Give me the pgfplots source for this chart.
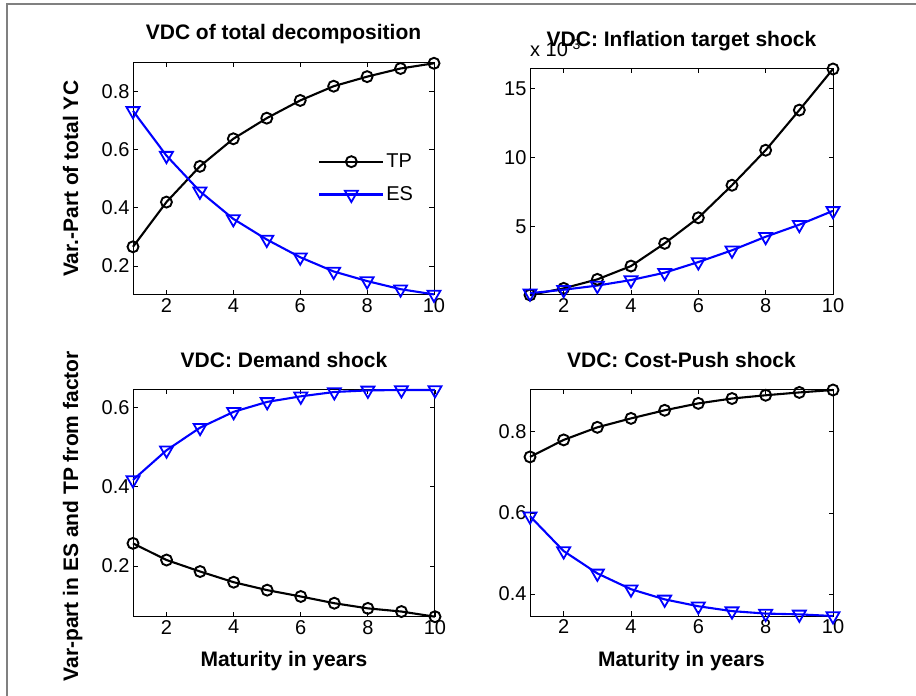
\documentclass[border=0pt]{standalone}
\usepackage{fontspec}
\setmainfont{Liberation Sans}
\usepackage{pgfplots}
\pgfplotsset{compat=1.18}

\newcommand{\tickfont}{\fontsize{20bp}{22bp}\selectfont}
\newcommand{\labfont}{\fontsize{21bp}{24bp}\selectfont\bfseries}
\definecolor{framegray}{RGB}{128,128,128}

\pgfplotsset{
  vdc/.style={
    scale only axis,
    anchor=south west,
    xmin=1, xmax=10,
    xtick={2,4,6,8,10},
    tick align=inside,
    xtick pos=both, ytick pos=both,
    major tick length=4.5bp,
    tick style={black, line width=0.8bp},
    axis line style={black, line width=1bp},
    ticklabel style={font=\tickfont},
    /pgf/number format/assume math mode=true,
    title style={font=\labfont, at={([yshift=17bp]axis description cs:0.5,1)}, anchor=base, inner sep=0pt},
    xlabel style={font=\labfont, at={([yshift=-50bp]axis description cs:0.5,0)}, anchor=base, inner sep=0pt},
    clip=false,
    every axis plot/.append style={line width=2.1bp},
  },
  tp/.style={black, mark=o, mark size=5.5bp, mark options={line width=1.9bp, solid}},
  es/.style={blue, mark=triangle, mark size=7.5bp, mark options={rotate=180, line width=1.8bp, solid}},
}

\begin{document}
\begin{tikzpicture}
\useasboundingbox (0,0) rectangle (916bp,696bp);
\draw[framegray, line width=2bp] (6.7bp,0bp) -- (6.7bp,692.3bp) -- (916bp,692.3bp);

% Top left
\begin{axis}[vdc, at={(133bp,401bp)}, width=301bp, height=232.3bp,
  ymin=0.1, ymax=0.9, ytick={0.2,0.4,0.6,0.8},
  title={VDC of total decomposition},
  ylabel={Var.-Part of total YC},
  ylabel style={font=\labfont, at={([xshift=-55bp]axis description cs:0,0.5)}, anchor=base, rotate=0, inner sep=0pt},
  legend style={draw=none, fill=none, font=\tickfont, at={(axis description cs:0.615,0.503)}, anchor=west, inner sep=0pt, row sep=13.5bp},
  legend cell align=left,
  legend image code/.code={\draw[mark repeat=2,mark phase=2,#1] plot coordinates {(0bp,0bp) (32bp,0bp) (64bp,0bp)};},
]
\addplot[tp] coordinates {(1,0.266) (2,0.420) (3,0.543) (4,0.638) (5,0.709) (6,0.770) (7,0.819) (8,0.852) (9,0.880) (10,0.898)};
\addlegendentry{TP}
\addplot[es] coordinates {(1,0.734) (2,0.580) (3,0.457) (4,0.362) (5,0.291) (6,0.230) (7,0.181) (8,0.148) (9,0.120) (10,0.102)};
\addlegendentry{ES}
\end{axis}

% Top right (values in units of 10^-3)
\begin{axis}[vdc, at={(530bp,401bp)}, width=303bp, height=226bp,
  ymin=0.07, ymax=16.4, ytick={5,10,15},
  title={VDC: Inflation target shock},
]
\node[anchor=base west, font=\tickfont, inner sep=0pt] at ([yshift=12bp]rel axis cs:0,1) {x 10\textsuperscript{-3}};
\addplot[tp] coordinates {(1,0.07) (2,0.55) (3,1.2) (4,2.16) (5,3.8) (6,5.65) (7,8.0) (8,10.53) (9,13.43) (10,16.4)};
\addplot[es] coordinates {(1,0.2) (2,0.45) (3,0.75) (4,1.15) (5,1.68) (6,2.45) (7,3.3) (8,4.28) (9,5.15) (10,6.15)};
\end{axis}

% Bottom left
\begin{axis}[vdc, at={(133bp,79.3bp)}, width=302bp, height=226.7bp,
  ymin=0.072, ymax=0.644, ytick={0.2,0.4,0.6},
  title={VDC: Demand shock},
  xlabel={Maturity in years},
  ylabel={Var-part in ES and TP from factor},
  ylabel style={font=\labfont, at={([xshift=-55bp,yshift=-13bp]axis description cs:0,0.5)}, anchor=base, rotate=0, inner sep=0pt},
]
\addplot[tp] coordinates {(1,0.257) (2,0.215) (3,0.186) (4,0.159) (5,0.139) (6,0.123) (7,0.106) (8,0.093) (9,0.085) (10,0.072)};
\addplot[es] coordinates {(1,0.417) (2,0.492) (3,0.549) (4,0.589) (5,0.614) (6,0.628) (7,0.639) (8,0.643) (9,0.644) (10,0.644)};
\end{axis}

% Bottom right
\begin{axis}[vdc, at={(530bp,80bp)}, width=303bp, height=226bp,
  ymin=0.346, ymax=0.903, ytick={0.4,0.6,0.8},
  title={VDC: Cost-Push shock},
  xlabel={Maturity in years},
]
\addplot[tp] coordinates {(1,0.738) (2,0.780) (3,0.811) (4,0.833) (5,0.853) (6,0.870) (7,0.882) (8,0.890) (9,0.897) (10,0.903)};
\addplot[es] coordinates {(1,0.592) (2,0.506) (3,0.451) (4,0.412) (5,0.387) (6,0.370) (7,0.358) (8,0.352) (9,0.350) (10,0.346)};
\end{axis}
\end{tikzpicture}
\end{document}
